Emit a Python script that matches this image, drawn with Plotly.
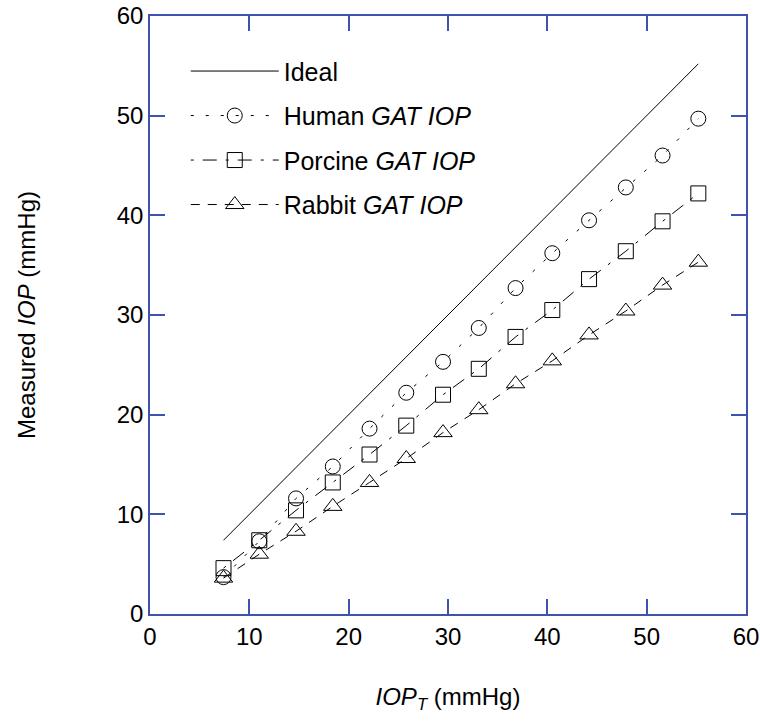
import plotly.graph_objects as go

# IOP_T (true IOP, mmHg)
iop_t = [7.4, 11.0, 14.7, 18.4, 22.1, 25.8, 29.5, 33.1, 36.8, 40.5, 44.2, 47.9, 51.6, 55.2]
# Measured GAT IOP (mmHg)
human = [3.7, 7.3, 11.6, 14.8, 18.6, 22.2, 25.3, 28.7, 32.7, 36.2, 39.5, 42.8, 46.0, 49.7]
porcine = [4.6, 7.4, 10.4, 13.2, 16.0, 18.9, 22.0, 24.6, 27.8, 30.5, 33.6, 36.4, 39.4, 42.2]
rabbit = [3.6, 6.0, 8.3, 10.8, 13.2, 15.6, 18.2, 20.5, 23.1, 25.4, 28.0, 30.4, 33.0, 35.3]
ideal_x = [7.4, 55.2]
ideal_y = [7.4, 55.2]

tick_vals = [0, 10, 20, 30, 40, 50, 60]

FONT = "Liberation Sans, Arial, sans-serif"
AXIS_BLUE = "#3F52AE"

fig = go.Figure()
fig.add_trace(go.Scatter(
    x=ideal_x, y=ideal_y, mode="lines", name="Ideal",
    line=dict(color="black", width=1), legendgroup="a"))
fig.add_trace(go.Scatter(
    x=iop_t, y=human, mode="lines+markers", name="Human <i>GAT IOP</i>",
    line=dict(color="black", width=1, dash="3px,12px"),
    marker=dict(symbol="circle-open", size=15, color="black", line=dict(width=1)),
    legendgroup="b"))
fig.add_trace(go.Scatter(
    x=iop_t, y=porcine, mode="lines+markers", name="Porcine <i>GAT IOP</i>",
    line=dict(color="black", width=1, dash="3px,9px,14px,9px"),
    marker=dict(symbol="square-open", size=15, color="black", line=dict(width=1)),
    legendgroup="c"))
fig.add_trace(go.Scatter(
    x=iop_t, y=rabbit, mode="lines+markers", name="Rabbit <i>GAT IOP</i>",
    line=dict(color="black", width=1, dash="9px,8px"),
    marker=dict(symbol="triangle-up-open", size=16, color="black", line=dict(width=1)),
    legendgroup="d"))

axis_common = dict(
    range=[0, 60], tickvals=tick_vals, showgrid=False, zeroline=False,
    showline=True, linecolor=AXIS_BLUE, linewidth=1.5, mirror="ticks",
    ticks="inside", ticklen=15, tickcolor=AXIS_BLUE, tickwidth=1.5,
    tickfont=dict(family=FONT, size=24, color="black"), automargin=False,
    ticklabeloverflow="allow",
)

fig.update_layout(
    width=760, height=725,
    margin=dict(l=150, r=14, t=16, b=111),
    paper_bgcolor="white", plot_bgcolor="white",
    font=dict(family=FONT, size=24, color="black"),
    xaxis=dict(**axis_common,
               title=dict(text="<i>IOP</i><sub><i>T</i></sub> (mmHg)",
                          font=dict(family=FONT, size=24), standoff=40)),
    yaxis=dict(**axis_common,
               title=dict(text="Measured <i>IOP</i> (mmHg)",
                          font=dict(family=FONT, size=24), standoff=74)),
    showlegend=True,
    legend=dict(x=0.060, y=0.946, xanchor="left", yanchor="top",
                bgcolor="rgba(0,0,0,0)", borderwidth=0,
                font=dict(family=FONT, size=25),
                itemwidth=88, traceorder="grouped", tracegroupgap=9),
)

# remove the default 8px page margin so the figure fills the window exactly
fig.write_html("out.html", config={"displayModeBar": False},
               post_script="document.body.style.margin='0';")
